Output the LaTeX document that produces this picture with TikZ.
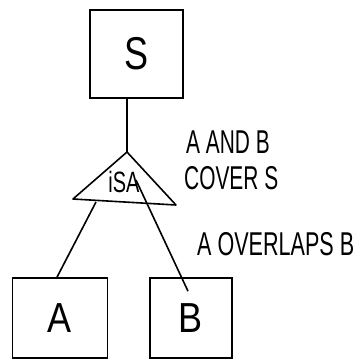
\documentclass[tikz,border=0pt]{standalone}
\usepackage{fontspec}
\setmainfont{Liberation Sans}
\begin{document}
\begin{tikzpicture}[x=1pt,y=-1pt,
  ent/.style={draw,line width=1.6pt,minimum width=#1,inner sep=0pt,font=\fontsize{40}{40}\selectfont},
  lnk/.style={line width=1.6pt},
  lbl/.style={font=\fontsize{22}{22}\selectfont,anchor=west,inner sep=0pt,align=left}]
\useasboundingbox (0,0) rectangle (362,360);
\node[ent=93pt,minimum height=88pt] (S) at (136.5,54) {\scalebox{0.9}[1.15]{S}};
\node[ent=95pt,minimum height=80pt] (A) at (60,318) {\scalebox{0.9}[1.05]{A}};
\node[ent=82pt,minimum height=80pt] (B) at (191,318) {\scalebox{0.9}[1.05]{B}};
\coordinate (apex) at (127,152);
\coordinate (tl) at (73,199);
\coordinate (tr) at (176,205);
\draw[lnk,line join=round] (apex) -- (tl) -- (tr) -- cycle;
\node[font=\fontsize{21}{21}\selectfont,inner sep=0pt] (isa) at (124,182) {\scalebox{0.95}[1.4]{iSA}};
\coordinate (bl) at (96,202);
\coordinate (br) at (136,180);
\draw[lnk] (S.south -| apex) -- (apex);
\draw[lnk] (bl) -- (A.north -| 57,0);
\draw[lnk] (br) -- ([yshift=-14pt]B.north -| 188,0);
\node[lbl] (t1) at (186,142) {\scalebox{0.95}[1.5]{A AND B}};
\node[lbl] (t2) at (184,178) {\scalebox{0.95}[1.5]{COVER S}};
\node[lbl] (t3) at (197,244) {\scalebox{0.98}[1.5]{A OVERLAPS B}};
\end{tikzpicture}
\end{document}
